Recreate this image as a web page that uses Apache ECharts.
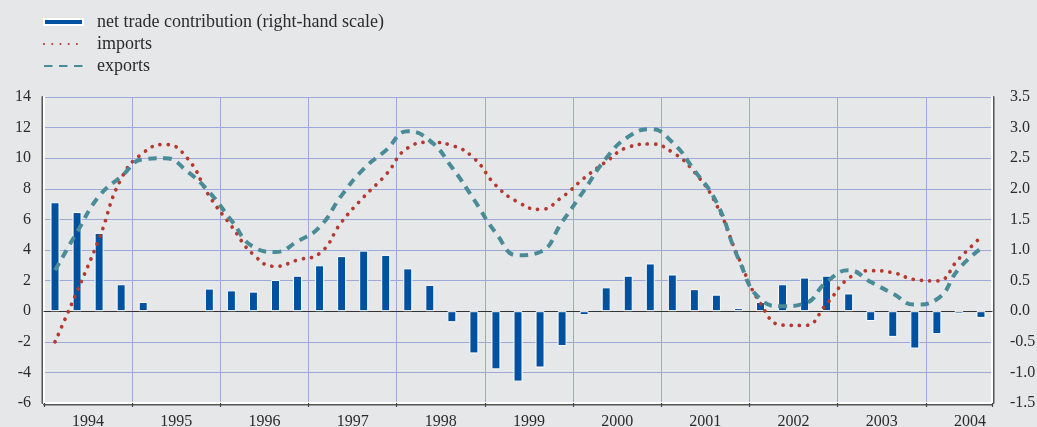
<!DOCTYPE html>
<html>
<head>
<meta charset="utf-8">
<script src="https://cdn.jsdelivr.net/npm/echarts@6/dist/echarts.min.js"></script>
<style>
  html, body { margin: 0; padding: 0; background: #e6e7e9; }
  #chart { width: 1037px; height: 427px; }
</style>
</head>
<body>
<div id="chart"></div>
<script>
// quarters 1994 Q1 - 2004 Q3
const years = ['1994', '1995', '1996', '1997', '1998', '1999', '2000', '2001', '2002', '2003', '2004'];
const quarters = [];
years.forEach(y => {
  for (let q = 1; q <= 4; q++) {
    if (y === '2004' && q === 4) break;
    quarters.push(y + ' Q' + q);
  }
});

// net trade contribution, right-hand scale
const netTrade = [
  1.78, 1.62, 1.28, 0.44,
  0.15, '-', '-', 0.37,
  0.34, 0.32, 0.51, 0.58,
  0.75, 0.90, 0.99, 0.92,
  0.70, 0.43, -0.18, -0.69,
  -0.95, -1.15, -0.92, -0.57,
  -0.065, 0.39, 0.58, 0.78,
  0.60, 0.36, 0.27, 0.05,
  0.15, 0.44, 0.55, 0.58,
  0.29, -0.16, -0.42, -0.61,
  -0.375, -0.04, -0.11
];

const imports = [
  -2.0, 1.3, 4.74, 8.65,
  10.35, 10.9, 10.0, 7.52,
  5.57, 3.7, 2.93, 3.35,
  3.78, 5.83, 7.46, 8.91,
  10.67, 11.04, 10.83, 10.0,
  8.22, 7.13, 6.65, 7.46,
  8.7, 9.78, 10.72, 10.93,
  10.39, 9.09, 6.96, 3.5,
  0.5, -0.91, -0.93, 0.48,
  2.15, 2.65, 2.52, 2.07,
  1.98, 3.43, 4.85
];

const exports = [
  2.67, 5.17, 7.52, 8.8,
  9.93, 10.0, 9.13, 7.78,
  5.93, 4.2, 3.87, 4.57,
  5.5, 7.57, 9.3, 10.5,
  11.76, 11.15, 9.41, 7.3,
  5.11, 3.65, 3.87, 5.83,
  7.9, 10.0, 11.4, 11.9,
  11.04, 9.2, 7.13, 3.43,
  0.78, 0.33, 0.5, 1.91,
  2.67, 1.91, 1.15, 0.43,
  0.78, 2.78, 4.1
];

const font = 'Liberation Serif';
const textColor = '#2b2b2b';
const gridColor = '#9ea9d8';
const hideSymbol = { opacity: 0 };

const chart = echarts.init(document.getElementById('chart'));

chart.setOption({
  animation: false,
  backgroundColor: '#e6e7e9',
  textStyle: { fontFamily: font },
  legend: {
    orient: 'vertical',
    left: 38,
    top: 8,
    itemWidth: 39,
    itemHeight: 6,
    itemGap: 4,
    textStyle: { fontFamily: font, fontSize: 18, color: textColor, lineHeight: 18, padding: [0, 0, 0, 9] },
    data: [
      { name: 'net trade contribution (right-hand scale)', icon: 'rect' },
      { name: 'imports', itemStyle: hideSymbol },
      { name: 'exports', itemStyle: hideSymbol }
    ]
  },
  grid: { left: 44, right: 45, top: 97, bottom: 24, outerBoundsMode: 'none', containLabel: false },
  xAxis: [
    {
      type: 'category',
      data: quarters,
      position: 'bottom',
      boundaryGap: true,
      axisLine: {
        onZero: false,
        lineStyle: { color: '#ffffff', width: 2, shadowColor: '#555', shadowOffsetY: 1.5 }
      },
      axisTick: {
        show: true,
        length: 4,
        interval: (i) => i % 4 === 0,
        lineStyle: { color: '#444', width: 1.2 }
      },
      axisLabel: {
        interval: (i) => i % 4 === 1,
        formatter: (v) => v.slice(0, 4),
        fontFamily: font,
        fontSize: 16,
        color: textColor,
        margin: 11,
        padding: [0, 0, 0, 22]
      },
      splitLine: {
        show: true,
        interval: (i) => i % 4 === 0,
        lineStyle: { color: gridColor, width: 1 }
      }
    },
    {
      type: 'category',
      data: quarters,
      position: 'bottom',
      axisLine: { onZero: true, onZeroAxisIndex: 0, lineStyle: { color: '#333', width: 1.2 } },
      axisTick: { show: false },
      axisLabel: { show: false },
      splitLine: { show: false }
    }
  ],
  yAxis: [
    {
      type: 'value',
      min: -6,
      max: 14,
      interval: 2,
      position: 'left',
      axisLine: {
        show: true,
        lineStyle: { color: '#ffffff', width: 2, shadowColor: '#555', shadowOffsetX: -1.5 }
      },
      axisTick: { show: false },
      axisLabel: { fontFamily: font, fontSize: 16, color: textColor, margin: 13 },
      splitLine: { lineStyle: { color: gridColor, width: 1 } }
    },
    {
      type: 'value',
      min: -1.5,
      max: 3.5,
      interval: 0.5,
      position: 'right',
      axisLine: {
        show: true,
        lineStyle: { color: '#ffffff', width: 2, shadowColor: '#555', shadowOffsetX: 1.5 }
      },
      axisTick: { show: false },
      axisLabel: {
        fontFamily: font,
        fontSize: 16,
        color: textColor,
        margin: 18,
        formatter: (v) => v.toFixed(1)
      },
      splitLine: { show: false }
    }
  ],
  series: [
    {
      name: 'net trade contribution (right-hand scale)',
      type: 'bar',
      yAxisIndex: 1,
      data: netTrade,
      barWidth: 9,
      itemStyle: { color: '#0051a0', borderColor: '#ffffff', borderWidth: 1 }
    },
    {
      name: 'imports',
      type: 'line',
      yAxisIndex: 0,
      data: imports,
      smooth: true,
      symbol: 'none',
      itemStyle: { color: '#b43a30' },
      lineStyle: { color: '#b43a30', width: 3.7, type: [0.1, 8.1], cap: 'round' },
      z: 3
    },
    {
      name: 'exports',
      type: 'line',
      yAxisIndex: 0,
      data: exports,
      smooth: true,
      symbol: 'none',
      itemStyle: { color: '#4a8b98' },
      lineStyle: { color: '#4a8b98', width: 4, type: [8.5, 6.5] },
      z: 4
    }
  ]
});
</script>
</body>
</html>
